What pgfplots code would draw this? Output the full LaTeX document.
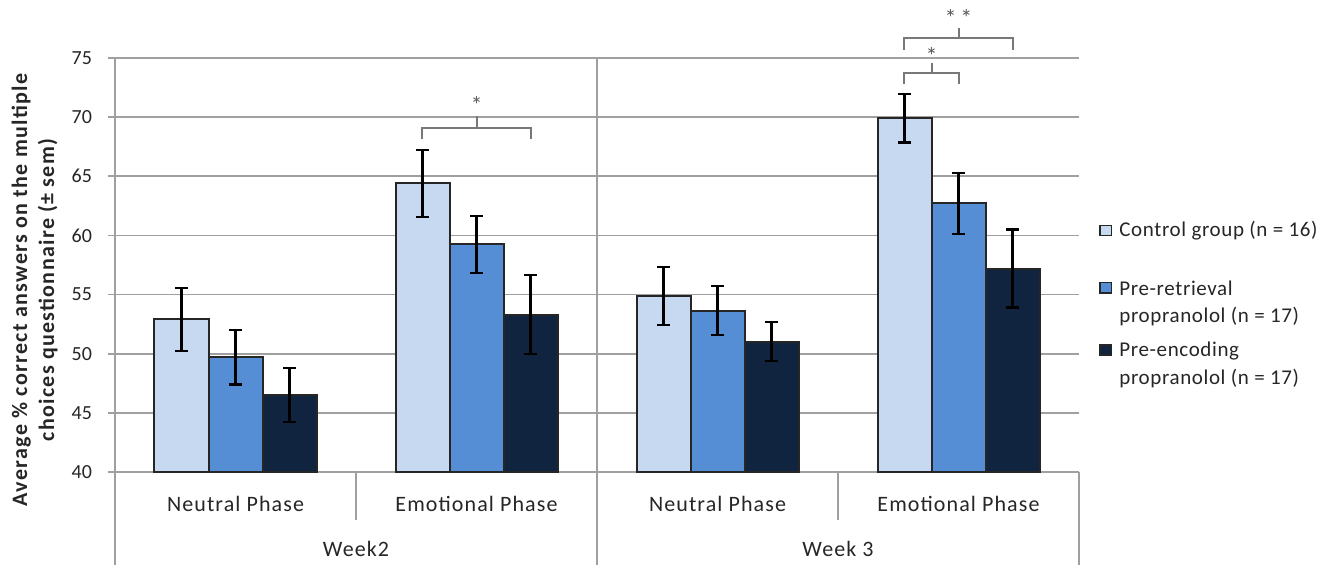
\documentclass[border=0pt]{standalone}
\usepackage{fontspec}
\setmainfont{Carlito}
\newfontfamily\catfont[LetterSpace=5]{Carlito}
\newfontfamily\legfont[LetterSpace=3]{Carlito}
\newfontfamily\labfont[LetterSpace=6]{Carlito}
\usepackage{pgfplots}
\usepackage{pgfplotstable}
\pgfplotsset{compat=1.18}

\definecolor{ctrl}{RGB}{198,217,241}
\definecolor{retr}{RGB}{85,142,213}
\definecolor{enc}{RGB}{17,36,63}
\definecolor{gridgray}{RGB}{160,160,160}
\definecolor{brk}{RGB}{120,120,120}
\definecolor{txt}{RGB}{38,38,38}

% mean and s.e.m. per condition: 0 = W2 neutral, 1 = W2 emotional, 2 = W3 neutral, 3 = W3 emotional
\pgfplotstableread{
x ctrl ctrlerr retr retrerr enc encerr
0 52.9 2.65 49.7  2.30 46.5 2.30
1 64.4 2.85 59.25 2.40 53.3 3.35
2 54.9 2.45 53.65 2.05 51.0 1.65
3 69.9 2.05 62.7  2.55 57.2 3.30
}\results

\tikzset{
  catlabel/.style={anchor=base, font=\catfont\fontsize{11}{13}\selectfont, text=txt},
  legtext/.style={anchor=base west, inner sep=0pt, font=\legfont\fontsize{10.5}{13}\selectfont, text=txt},
  legbox/.style={draw=black!85, line width=0.8pt},
  frame/.style={gridgray, line width=0.8pt},
  bracket/.style={brk, line width=1pt},
  star/.style={anchor=base, font=\fontsize{12}{14}\selectfont, text=black!65},
}
\pgfplotsset{
  barstyle/.style={draw=black!85, line width=1pt},
  errs/.style={error bars/.cd, y dir=both, y explicit,
    error bar style={black, line width=1.1pt},
    error mark options={black, line width=1.1pt, mark size=3.2pt, rotate=90}},
}

\begin{document}
\begin{tikzpicture}
\begin{axis}[
  at={(0,0)}, anchor=south west,
  scale only axis, width=482pt, height=207pt,
  xmin=-0.5, xmax=3.5, ymin=40, ymax=75,
  ytick={40,45,...,75}, xtick=\empty,
  ybar=0pt, bar width=27pt,
  axis x line*=bottom, axis y line*=left,
  axis line style={-, gridgray, line width=0.8pt},
  ymajorgrids, grid style={gridgray, line width=0.8pt},
  y tick style={gridgray, line width=0.8pt},
  tick align=outside, major tick length=3.5pt, tick pos=left,
  yticklabel style={font=\fontsize{10}{12}\selectfont, text=txt, xshift=-4.5pt,
    /pgf/number format/assume math mode=true},
  clip=false,
]
\addplot[barstyle, fill=ctrl, errs] table[x=x, y=ctrl, y error=ctrlerr] {\results};
\addplot[barstyle, fill=retr, errs] table[x=x, y=retr, y error=retrerr] {\results};
\addplot[barstyle, fill=enc,  errs] table[x=x, y=enc,  y error=encerr]  {\results};

% category and week names below the plot
\node[catlabel, yshift=-20pt] at (axis cs:0,40) {Neutral Phase};
\node[catlabel, yshift=-20pt] at (axis cs:1,40) {Emotional Phase};
\node[catlabel, yshift=-20pt] at (axis cs:2,40) {Neutral Phase};
\node[catlabel, yshift=-20pt] at (axis cs:3,40) {Emotional Phase};
\node[catlabel, yshift=-42.5pt] at (axis cs:0.5,40) {Week2};
\node[catlabel, yshift=-42.5pt] at (axis cs:2.5,40) {Week 3};

% significance brackets
\draw[bracket] (axis cs:0.7759,68.15) |- (axis cs:1.2241,69.1) -- (axis cs:1.2241,68.15);
\draw[bracket] (axis cs:1,69.1) -- (axis cs:1,70.1);
\node[star] at (axis cs:1,70.3) {*};

\draw[bracket] (axis cs:2.7759,72.8) |- (axis cs:3,73.73) -- (axis cs:3,72.8);
\draw[bracket] (axis cs:2.888,73.73) -- (axis cs:2.888,74.6);
\node[star] at (axis cs:2.888,74.45) {*};

\draw[bracket] (axis cs:2.7759,75.7) |- (axis cs:3.2241,76.7) -- (axis cs:3.2241,75.7);
\draw[bracket] (axis cs:3,76.7) -- (axis cs:3,77.5);
\node[star] at (axis cs:3,77.65) {*\,*};
\end{axis}

% frame lines of the two-level category axis (axis box spans 482pt x 207pt)
\draw[frame] (0pt,0pt) -- (0pt,-46.5pt);
\draw[frame] (241pt,207pt) -- (241pt,-46.5pt);
\draw[frame] (482pt,0pt) -- (482pt,-46.5pt);
\draw[frame] (120.5pt,0pt) -- (120.5pt,-24pt);
\draw[frame] (361.5pt,0pt) -- (361.5pt,-24pt);

% y axis title
\node[rotate=90, align=center, text=txt, font=\labfont\bfseries\fontsize{11}{13.5}\selectfont]
  at (-40.25pt,91pt) {Average \% correct answers on the multiple\\choices questionnaire (± sem)};

% legend
\filldraw[legbox, fill=ctrl] (492.5pt,118.2pt) rectangle (498.3pt,123.2pt);
\node[legtext] at (502pt,117.8pt) {Control group (n = 16)};
\filldraw[legbox, fill=retr] (492.5pt,89.5pt) rectangle (498.3pt,94.7pt);
\node[legtext] at (502pt,88.2pt) {Pre-retrieval};
\node[legtext] at (502pt,74.7pt) {propranolol (n = 17)};
\filldraw[legbox, fill=enc] (492.5pt,58.6pt) rectangle (498.3pt,63.6pt);
\node[legtext] at (502pt,57.8pt) {Pre-encoding};
\node[legtext] at (502pt,43.7pt) {propranolol (n = 17)};

\pgfresetboundingbox
\path (-57.5pt,-46.5pt) rectangle (611pt,236pt);
\end{tikzpicture}
\end{document}
